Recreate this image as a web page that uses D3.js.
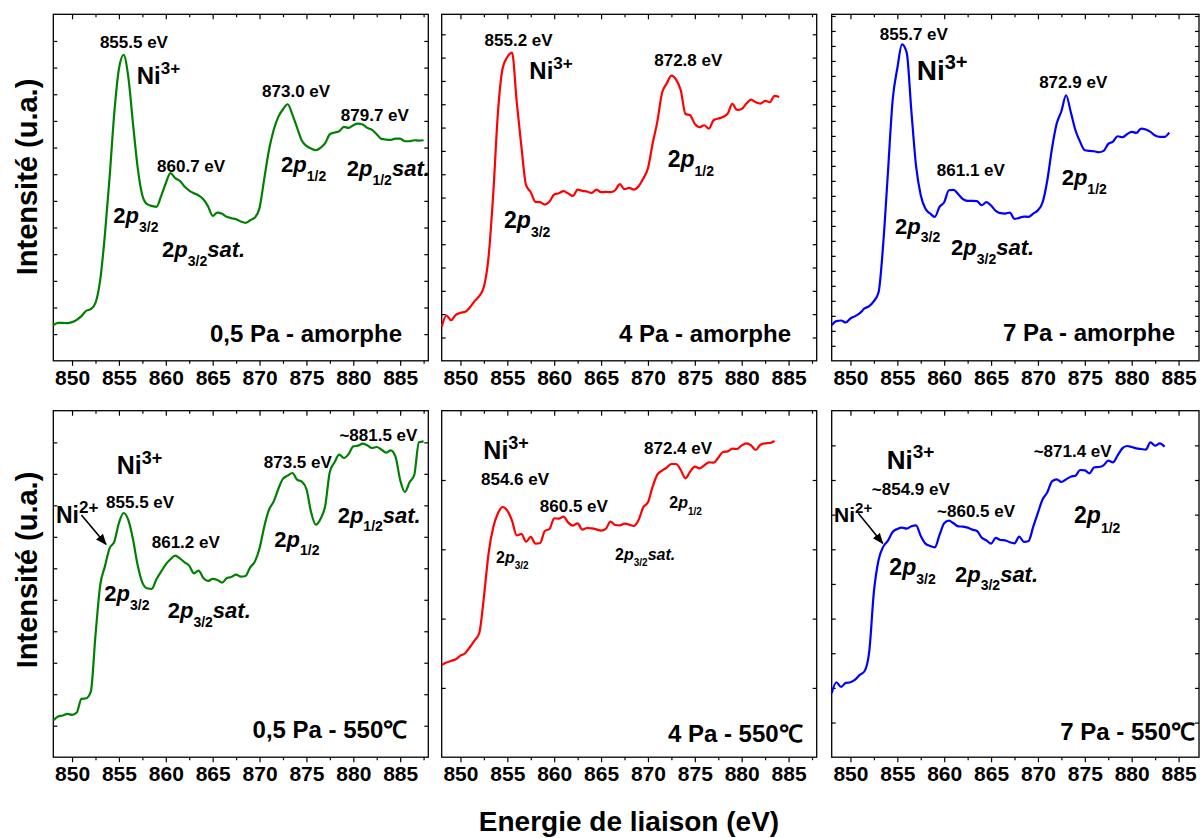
<!DOCTYPE html>
<html><head><meta charset="utf-8">
<script src="https://cdn.jsdelivr.net/npm/d3@7"></script>
<style>
body{margin:0;background:#fff}
svg text{font-family:"Liberation Sans",Arial,Helvetica,sans-serif;font-weight:bold;fill:#000}
</style></head><body>
<svg id="c" width="1200" height="838"></svg>
<script>
// Binding energy grid (eV)
const energy = [848,848.5,849,849.5,850,850.5,851,851.5,852,852.5,853,853.5,854,854.5,855,855.5,856,856.5,857,857.5,
858,858.5,859,859.5,860,860.5,861,861.5,862,862.5,863,863.5,864,864.5,865,865.5,866,866.5,867,867.5,
868,868.5,869,869.5,870,870.5,871,871.5,872,872.5,873,873.5,874,874.5,875,875.5,876,876.5,877,877.5,
878,878.5,879,879.5,880,880.5,881,881.5,882,882.5,883,883.5,884,884.5,885,885.5,886,886.5,887,887.5];

// Intensities (u.a.)
const amorphe05 = [107,114,114,113,116,123,134,150,155,174,242,377,549,742,876,918,852,712,580,496,
470,465,462,494,533,563,548,540,523,511,503,496,485,464,435,445,441,432,428,425,
418,414,422,430,459,546,632,692,732,755,770,739,700,661,645,637,632,639,653,680,
685,689,702,699,707,712,709,699,693,680,666,664,663,667,667,659,659,662,661,662];
const amorphe4 = [102,136,122,138,144,147,160,179,194,222,312,502,746,878,912,925,778,643,527,506,
477,476,469,478,499,503,509,502,495,514,510,508,504,514,506,507,506,512,530,515,
519,514,524,547,578,652,718,804,832,856,844,812,741,737,711,701,707,697,722,727,
732,742,771,753,756,772,784,776,772,780,776,795,792];
const amorphe7 = [107,119,121,115,127,134,143,157,164,179,206,353,566,782,878,950,925,749,584,497,
456,442,432,462,476,512,513,500,485,480,480,479,467,476,466,450,443,442,445,426,
429,433,432,442,452,476,542,638,712,749,797,747,692,657,632,630,629,626,630,651,
658,674,671,680,687,684,697,694,687,676,672,672,685];
const recuit05 = [110,122,125,130,127,134,175,177,197,366,516,572,627,646,703,733,712,654,576,524,
507,505,534,557,579,594,605,597,585,575,552,560,538,529,535,532,524,537,541,548,
542,544,570,587,627,692,742,767,805,836,845,853,833,827,805,735,698,715,754,857,
885,908,898,910,933,935,941,936,928,931,923,914,921,902,832,796,825,847,945,948];
const recuit4 = [277,284,289,294,305,312,330,350,372,480,612,690,732,751,740,710,666,670,647,661,
641,643,679,685,717,716,722,704,695,702,683,688,687,684,680,685,707,697,696,701,
698,694,712,750,765,812,848,860,869,880,880,862,837,857,872,867,876,885,884,899,
916,918,926,925,936,942,936,922,938,942,943,949];
const recuit7 = [192,225,211,223,225,233,247,258,316,496,592,632,650,676,685,689,686,693,696,664,
641,634,630,667,702,710,702,693,692,689,683,679,659,651,641,658,652,651,645,642,
662,646,649,692,734,774,795,828,834,826,834,842,845,862,861,852,870,871,876,890,
885,906,927,934,931,927,925,923,945,935,942,932];

const xTickLabels = [850,855,860,865,870,875,880,885];
const xMinorTicks = [852.5,857.5,862.5,867.5,872.5,877.5,882.5,887.5];
const panelTitles = ["0,5 Pa - amorphe","4 Pa - amorphe","7 Pa - amorphe","0,5 Pa - 550\u2103","4 Pa - 550\u2103","7 Pa - 550\u2103"];
const yTitle = "Intensit\u00e9 (u.a.)";
const xTitle = "Energie de liaison (eV)";

// label helpers
const P32 = [["2"],["p","i"],["3/2","sub"]];
const P12 = [["2"],["p","i"],["1/2","sub"]];
const P32S = [["2"],["p","i"],["3/2","sub"],["sat.","i"]];
const P12S = [["2"],["p","i"],["1/2","sub"],["sat.","i"]];
const ni = n => [["Ni"],[n,"sup"]];
const ev = t => [[t]];

const panels = [
 {data:amorphe05,color:"#008000",row:0,col:0,yStep:80,xMax:888,labels:[
   {x:856.6,y:939,a:"middle",s:17,p:ev("855.5 eV")},
   {x:856.9,y:832,s:24,p:ni("3+")},
   {x:854.4,y:414,s:22,p:P32},
   {x:862.7,y:567,a:"middle",s:17,p:ev("860.7 eV")},
   {x:859.6,y:312,s:22,p:P32S},
   {x:873.9,y:792,a:"middle",s:17,p:ev("873.0 eV")},
   {x:872.3,y:567,s:22,p:P12},
   {x:882.3,y:720,a:"middle",s:17,p:ev("879.7 eV")},
   {x:879.3,y:554,s:22,p:P12S},
   {x:885.2,y:57,a:"end",s:24,p:ev(panelTitles[0])}]},
 {data:amorphe4,color:"#ff0000",row:0,col:1,yStep:70,xMax:888,labels:[
   {x:856.2,y:944,a:"middle",s:17,p:ev("855.2 eV")},
   {x:857.35,y:847,s:24,p:ni("3+")},
   {x:854.65,y:399,s:23,p:P32},
   {x:874.3,y:884,a:"middle",s:17,p:ev("872.8 eV")},
   {x:872.1,y:582,s:23,p:P12},
   {x:885.26,y:57,a:"end",s:24,p:ev(panelTitles[1])}]},
 {data:amorphe7,color:"#0000ff",row:0,col:2,yStep:45,xMax:887.18,labels:[
   {x:856.76,y:964,a:"middle",s:17,p:ev("855.7 eV")},
   {x:857.07,y:842,s:28,p:ni("3+")},
   {x:854.76,y:382,s:22,p:P32},
   {x:862.84,y:554,a:"middle",s:17,p:ev("861.1 eV")},
   {x:860.73,y:317,s:22,p:P32S},
   {x:873.76,y:820,a:"middle",s:17,p:ev("872.9 eV")},
   {x:872.53,y:527,s:22,p:P12},
   {x:884.62,y:60,a:"end",s:24,p:ev(panelTitles[2])}]},
 {data:recuit05,color:"#008000",row:1,col:0,yStep:94.5,xMax:888,
  arrow:[851.0,727,853.62,639],labels:[
   {x:854.76,y:849,s:25,p:ni("3+")},
   {x:848.28,y:704,s:23,p:ni("2+")},
   {x:857.26,y:749,a:"middle",s:17,p:ev("855.5 eV")},
   {x:853.44,y:469,s:22,p:P32},
   {x:862.13,y:627,a:"middle",s:17,p:ev("861.2 eV")},
   {x:860.2,y:417,s:22,p:P32S},
   {x:874.08,y:867,a:"middle",s:17,p:ev("873.5 eV")},
   {x:871.57,y:632,s:22,p:P12},
   {x:882.68,y:949,a:"middle",s:17,p:ev("~881.5 eV")},
   {x:878.33,y:704,s:22,p:P12S},
   {x:885.76,y:57,a:"end",s:24,p:ev(panelTitles[3])}]},
 {data:recuit4,color:"#ff0000",row:1,col:1,yStep:208,xMax:888,labels:[
   {x:852.44,y:894,s:25,p:ni("3+")},
   {x:855.82,y:817,a:"middle",s:17,p:ev("854.6 eV")},
   {x:862.1,y:737,a:"middle",s:17,p:ev("860.5 eV")},
   {x:873.21,y:910,a:"middle",s:17,p:ev("872.4 eV")},
   {x:853.8,y:584,s:16,p:P32},
   {x:866.49,y:592,s:16,p:P32S},
   {x:872.28,y:747,s:16,p:P12},
   {x:886.5,y:47,a:"end",s:24,p:ev(panelTitles[4])}]},
 {data:recuit7,color:"#0000ff",row:1,col:2,yStep:104,xMax:887.18,
  arrow:[850.84,732,853.44,642],labels:[
   {x:853.87,y:864,s:26,p:ni("3+")},
   {x:856.44,y:787,a:"middle",s:17,p:ev("~854.9 eV")},
   {x:848.25,y:707,s:21,p:ni("2+")},
   {x:863.4,y:720,a:"middle",s:17,p:ev("~860.5 eV")},
   {x:873.7,y:902,a:"middle",s:17,p:ev("~871.4 eV")},
   {x:854.15,y:547,s:23,p:P32},
   {x:861.15,y:527,s:22,p:P32S},
   {x:873.85,y:702,s:23,p:P12},
   {x:886.75,y:52,a:"end",s:24,p:ev(panelTitles[5])}]}
];

const colLeft=[53.3,441.7,831.7];
const rowTop=[14.3,410.7];
const pxPerEV = 9.375, panelH = 346.5;

const svg = d3.select("#c");
svg.append("defs").append("marker").attr("id","ah").attr("viewBox","0 0 10 10")
  .attr("refX",9).attr("refY",5).attr("markerWidth",7).attr("markerHeight",7)
  .attr("orient","auto-start-reverse")
  .append("path").attr("d","M0,1 L10,5 L0,9 z").attr("fill","#000");

function rich(g, x, y, parts, size, anchor){
  const t = g.append("text").attr("x",x).attr("y",y)
    .attr("text-anchor",anchor||"start").style("font-size",size+"px");
  let shift = 0;
  parts.forEach(([s,k])=>{
    const sp = t.append("tspan").text(s);
    let target = 0, fs = size;
    if (k==="i") sp.style("font-style","italic");
    if (k==="sub"){ target = size*0.4; fs = Math.round(size*0.63); }
    if (k==="sup"){ target = -size*0.42; fs = Math.round(size*0.72); }
    sp.attr("dy", target-shift).style("font-size",fs+"px");
    shift = target;
  });
}

panels.forEach(p=>{
  const left = colLeft[p.col], top = rowTop[p.row];
  const w = (p.xMax-848)*pxPerEV;
  const x = d3.scaleLinear().domain([848,p.xMax]).range([0,w]);
  const y = d3.scaleLinear().domain([0,1040]).range([panelH,0]);
  const g = svg.append("g").attr("transform",`translate(${left},${top})`);

  // axes
  const xb = d3.axisBottom(x).tickValues(xTickLabels).tickSize(5).tickPadding(4).tickFormat(d3.format("d"));
  const ga = g.append("g").attr("transform",`translate(0,${panelH})`).call(xb);
  ga.selectAll("text").style("font-size","21px").attr("dy","0.72em");
  g.append("g").attr("transform",`translate(0,${panelH})`)
    .call(d3.axisBottom(x).tickValues(xMinorTicks.filter(v=>v<=p.xMax)).tickSize(3).tickFormat(""));
  g.append("g").call(d3.axisBottom(x).tickValues(xTickLabels).tickSize(5).tickFormat(""));
  g.append("g").call(d3.axisBottom(x).tickValues(xMinorTicks.filter(v=>v<=p.xMax)).tickSize(3).tickFormat(""));
  const yt = d3.range(p.yStep, 1040-1, p.yStep);
  g.append("g").call(d3.axisRight(y).tickValues(yt).tickSize(4).tickFormat(""));
  g.append("g").attr("transform",`translate(${w},0)`).call(d3.axisLeft(y).tickValues(yt).tickSize(4).tickFormat(""));
  g.selectAll(".domain").remove();
  g.selectAll(".tick line").attr("stroke","#000").attr("stroke-width",1.2);
  g.append("rect").attr("width",w).attr("height",panelH).attr("fill","none")
    .attr("stroke","#000").attr("stroke-width",1.3);

  // spectrum
  const pts = p.data.map((v,i)=>[energy[i],v]);
  g.append("path").datum(pts).attr("fill","none").attr("stroke",p.color)
    .attr("stroke-width",2.2).attr("stroke-linejoin","round")
    .attr("d", d3.line().x(d=>x(d[0])).y(d=>y(d[1])).curve(d3.curveMonotoneX));

  // annotations
  p.labels.forEach(l=> rich(g, x(l.x), y(l.y), l.p, l.s, l.a));
  if (p.arrow){
    const a = p.arrow;
    g.append("line").attr("x1",x(a[0])).attr("y1",y(a[1])).attr("x2",x(a[2])).attr("y2",y(a[3]))
      .attr("stroke","#000").attr("stroke-width",1.6).attr("marker-end","url(#ah)");
  }
});

// axis titles
[177,570].forEach(cy=>{
  svg.append("text").attr("transform",`translate(37,${cy}) rotate(-90)`)
    .attr("text-anchor","middle").style("font-size","29px").text(yTitle);
});
svg.append("text").attr("x",629).attr("y",831).attr("text-anchor","middle")
  .style("font-size","28px").text(xTitle);
</script>
</body></html>
